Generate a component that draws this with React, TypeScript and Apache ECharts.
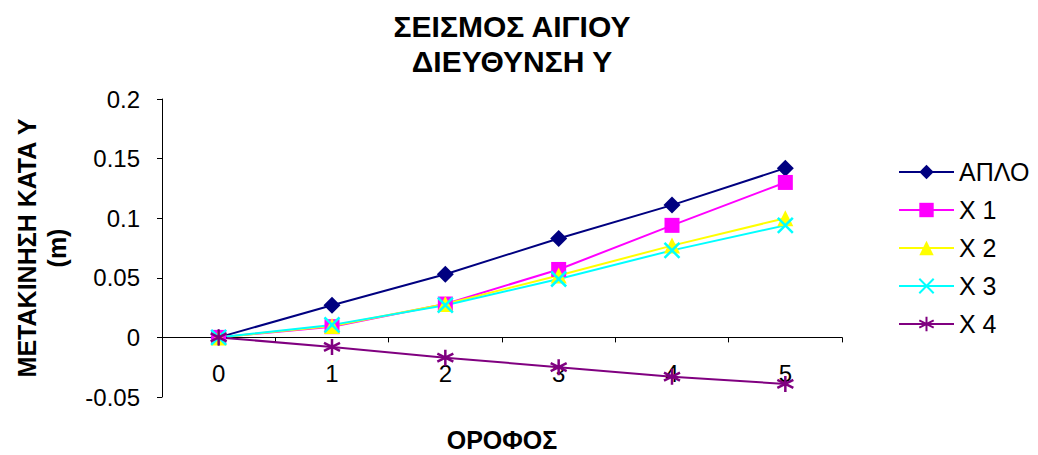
import React, { useEffect, useRef } from "react";
import * as echarts from "echarts";

const floors = ["0", "1", "2", "3", "4", "5"];
const seriesNames = ["ΑΠΛΟ", "Χ 1", "Χ 2", "Χ 3", "Χ 4"];
const aplo = [0, 0.027, 0.053, 0.083, 0.111, 0.142];
const x1 = [0, 0.009, 0.028, 0.057, 0.094, 0.13];
const x2 = [0, 0.0095, 0.028, 0.052, 0.077, 0.1];
const x3 = [0, 0.0105, 0.027, 0.049, 0.073, 0.094];
const x4 = [0, -0.008, -0.017, -0.025, -0.033, -0.039];
const colors = ["#000080", "#FF00FF", "#FFFF00", "#00FFFF", "#800080"];

const FONT = "'Liberation Sans', Arial, sans-serif";
const CROSS = "path://M0,0L10,10M10,0L0,10";
const STAR = "path://M5,0L5,10M0.7,2.5L9.3,7.5M9.3,2.5L0.7,7.5";

export default function App() {
  const ref = useRef<HTMLDivElement>(null);
  useEffect(() => {
    const chart = echarts.init(ref.current!, undefined, { renderer: "svg" });
    const datas = [aplo, x1, x2, x3, x4];
    const symbols = ["diamond", "rect", "triangle", CROSS, STAR];
    const sizes = [17, 15, 16, 15, 16];
    chart.setOption({
      animation: false,
      backgroundColor: "#ffffff",
      textStyle: { fontFamily: FONT },
      title: {
        text: "ΣΕΙΣΜΟΣ ΑΙΓΙΟΥ\nΔΙΕΥΘΥΝΣΗ Υ",
        left: 507,
        textAlign: "center",
        top: 4,
        textStyle: {
          fontFamily: FONT,
          fontSize: 30,
          fontWeight: "bold",
          color: "#000",
          lineHeight: 35,
        },
      },
      legend: {
        orient: "vertical",
        left: 893,
        top: 154,
        itemWidth: 55,
        itemHeight: 18,
        itemGap: 12,
        data: seriesNames,
        textStyle: { fontFamily: FONT, fontSize: 25, color: "#000", lineHeight: 26 },
      },
      grid: { left: 162, right: 196, top: 99, bottom: 58, outerBoundsMode: "none", containLabel: false },
      xAxis: {
        type: "category",
        data: floors,
        boundaryGap: true,
        axisLine: { onZero: true, lineStyle: { color: "#000", width: 1 } },
        axisTick: { show: true, length: 5, alignWithLabel: false, lineStyle: { color: "#000" } },
        axisLabel: { fontFamily: FONT, fontSize: 24, color: "#000", margin: -36 },
        splitLine: { show: false },
        name: "ΟΡΟΦΟΣ",
        nameLocation: "middle",
        nameGap: 30,
        nameTextStyle: { fontFamily: FONT, fontSize: 25, fontWeight: "bold", color: "#000" },
      },
      yAxis: {
        type: "value",
        min: -0.05,
        max: 0.2,
        interval: 0.05,
        axisLine: { show: true, onZero: false, lineStyle: { color: "#000", width: 1 } },
        axisTick: { show: true, length: 5, lineStyle: { color: "#000" } },
        axisLabel: { fontFamily: FONT, fontSize: 24, color: "#000", margin: 22 },
        splitLine: { show: false },
        name: "ΜΕΤΑΚΙΝΗΣΗ ΚΑΤΑ Υ\n(m)",
        nameLocation: "middle",
        nameRotate: 90,
        nameGap: 90,
        nameTextStyle: {
          fontFamily: FONT,
          fontSize: 25,
          fontWeight: "bold",
          color: "#000",
          lineHeight: 30,
        },
      },
      series: seriesNames.map((name, i) => ({
        name,
        type: "line",
        data: datas[i],
        symbol: symbols[i],
        symbolSize: sizes[i],
        showAllSymbol: true,
        lineStyle: { color: colors[i], width: 2 },
        itemStyle:
          i >= 3
            ? { color: colors[i], borderColor: colors[i], borderWidth: 2.5 }
            : { color: colors[i] },
      })),
    });
    return () => chart.dispose();
  }, []);
  return (
    <div
      ref={ref}
      style={{ position: "fixed", left: 0, top: 0, width: 1038, height: 455 }}
    />
  );
}
